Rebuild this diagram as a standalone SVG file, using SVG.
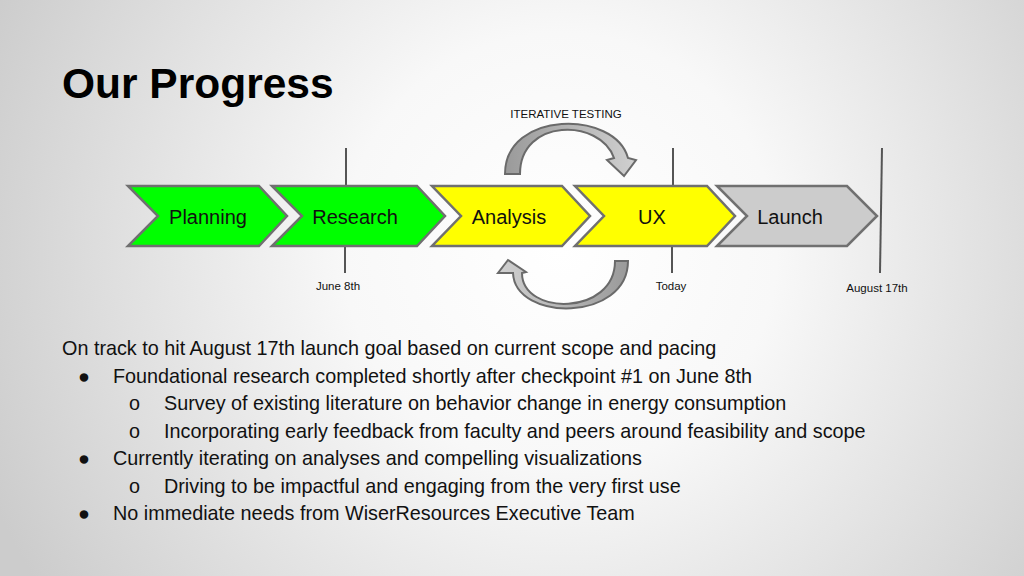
<svg xmlns="http://www.w3.org/2000/svg" width="1024" height="576" viewBox="0 0 1024 576">
  <defs>
    <radialGradient id="bg" cx="560" cy="250" r="620" gradientUnits="userSpaceOnUse">
      <stop offset="0" stop-color="#ffffff"/>
      <stop offset="0.35" stop-color="#f8f8f8"/>
      <stop offset="1" stop-color="#cccccc"/>
    </radialGradient>
    <linearGradient id="gTop" x1="505" y1="0" x2="636" y2="0" gradientUnits="userSpaceOnUse">
      <stop offset="0" stop-color="#9a9a9a"/>
      <stop offset="1" stop-color="#d0d0d0"/>
    </linearGradient>
    <linearGradient id="gBot" x1="628" y1="0" x2="498" y2="0" gradientUnits="userSpaceOnUse">
      <stop offset="0" stop-color="#9a9a9a"/>
      <stop offset="1" stop-color="#d0d0d0"/>
    </linearGradient>
    <style>
      .chev { stroke: #707070; stroke-width: 2.5; stroke-linejoin: miter; }
      .green { fill: #00ff00; }
      .yellow { fill: #ffff00; }
      .grey { fill: #cccccc; }
      .lbl { font-family: "Liberation Sans", Arial, sans-serif; font-size: 20px; fill: #111; text-anchor: middle; }
      .small { font-family: "Liberation Sans", Arial, sans-serif; font-size: 11.5px; fill: #111; text-anchor: middle; }
      .body { font-family: "Liberation Sans", Arial, sans-serif; font-size: 19.8px; fill: #111; }
      .mark { stroke: #555; stroke-width: 2; fill: none; }
      .curl { stroke: #6a6a6a; stroke-width: 2; stroke-linejoin: miter; }
    </style>
  </defs>
  <rect width="1024" height="576" fill="url(#bg)"/>

  <text x="62" y="98" font-family="Liberation Sans, Arial, sans-serif" font-weight="bold" font-size="42.5" fill="#000">Our Progress</text>

  <text class="small" x="566" y="118">ITERATIVE TESTING</text>

  <g id="markers">
    <line class="mark" x1="346" y1="148" x2="346" y2="186"/>
    <line class="mark" x1="345" y1="246" x2="345" y2="273"/>
    <line class="mark" x1="673" y1="148" x2="673" y2="186"/>
    <line class="mark" x1="672" y1="246" x2="672" y2="273"/>
    <line class="mark" x1="882" y1="148" x2="880" y2="273"/>
    <text class="small" x="338" y="290">June 8th</text>
    <text class="small" x="671" y="290">Today</text>
    <text class="small" x="877" y="292">August 17th</text>
  </g>

  <g id="connectors">
    <path class="curl" fill="url(#gTop)" d="M505,174 C505,110 615,110 628,158 L636,160 L624,176 L607,160 L614,158 C600,118 520,118 520,174 Z"/>
    <path class="curl" fill="url(#gBot)" d="M628,261 C628,322 515,322 513,273 L498,273 L508,260 L526,272 L522,273 C522,316 615,316 615,261 Z"/>
  </g>

  <g id="planning">
    <polygon class="chev green" points="128,186 259,186 287,216 259,246 128,246 158,216"/>
    <text class="lbl" x="208" y="224">Planning</text>
  </g>
  <g id="research">
    <polygon class="chev green" points="272,186 417,186 445,216 417,246 272,246 302,216"/>
    <text class="lbl" x="355" y="224">Research</text>
  </g>
  <g id="analysis">
    <polygon class="chev yellow" points="432,186 562,186 590,216 562,246 432,246 461,216"/>
    <text class="lbl" x="509" y="224">Analysis</text>
  </g>
  <g id="ux">
    <polygon class="chev yellow" points="575,186 707,186 735,216 707,246 575,246 604,216"/>
    <text class="lbl" x="652" y="224">UX</text>
  </g>
  <g id="launch">
    <polygon class="chev grey" points="717,186 847,186 877,216 847,246 717,246 747,216"/>
    <text class="lbl" x="790" y="224">Launch</text>
  </g>

  <g id="notes">
    <text class="body" x="62" y="355">On track to hit August 17th launch goal based on current scope and pacing</text>
    <text class="body" x="78" y="383">●</text>
    <text class="body" x="113" y="383">Foundational research completed shortly after checkpoint #1 on June 8th</text>
    <text class="body" x="129" y="410">o</text>
    <text class="body" x="164" y="410">Survey of existing literature on behavior change in energy consumption</text>
    <text class="body" x="129" y="438">o</text>
    <text class="body" x="164" y="438">Incorporating early feedback from faculty and peers around feasibility and scope</text>
    <text class="body" x="78" y="465">●</text>
    <text class="body" x="113" y="465">Currently iterating on analyses and compelling visualizations</text>
    <text class="body" x="129" y="493">o</text>
    <text class="body" x="164" y="493">Driving to be impactful and engaging from the very first use</text>
    <text class="body" x="78" y="520">●</text>
    <text class="body" x="113" y="520">No immediate needs from WiserResources Executive Team</text>
  </g>
</svg>
